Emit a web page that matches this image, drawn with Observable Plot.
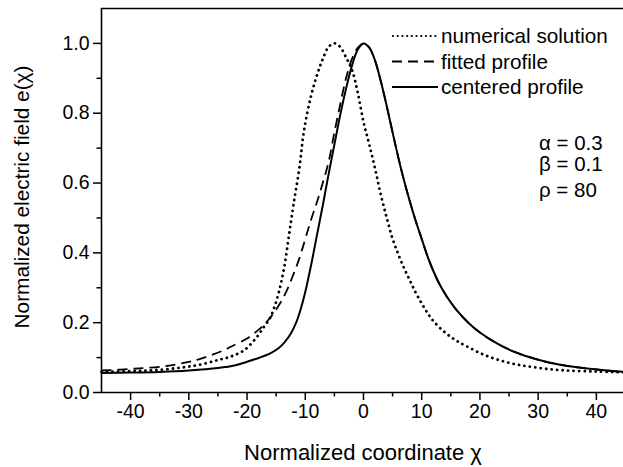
<!DOCTYPE html>
<html>
<head>
<meta charset="utf-8">
<script src="https://cdn.jsdelivr.net/npm/d3@7"></script>
<script src="https://cdn.jsdelivr.net/npm/@observablehq/plot@0.6"></script>
<style>
  html, body { margin: 0; padding: 0; background: #fff; overflow: hidden; }
  #chart svg { display: block; }
</style>
</head>
<body>
<div id="chart"></div>
<script>
// ---- data ----
const numX = [-45, -40, -36, -31, -28, -25, -22.8, -20.5, -18.5, -17.1, -16, -15.3, -14.5, -13.6, -12.8, -12, -11, -10.2, -9, -7.9, -7, -6, -5, -4, -3, -2, -1, 0, 1, 2, 3, 4, 5, 6, 7, 8, 9, 10, 11, 12, 14, 16, 18, 21, 25, 29, 34, 40, 44.7];
const numY = [0.059, 0.061, 0.064, 0.072, 0.08, 0.093, 0.103, 0.121, 0.155, 0.188, 0.215, 0.245, 0.29, 0.36, 0.45, 0.54, 0.645, 0.752, 0.85, 0.914, 0.955, 0.99, 1.0, 0.99, 0.96, 0.925, 0.86, 0.775, 0.71, 0.64, 0.565, 0.5, 0.44, 0.395, 0.355, 0.32, 0.285, 0.255, 0.228, 0.205, 0.172, 0.148, 0.13, 0.106, 0.085, 0.073, 0.064, 0.06, 0.058];

const fitX = [-45, -39.4, -33.7, -30, -27.9, -24, -22.8, -20, -18, -17, -16, -15, -14, -13, -12, -11, -10, -9, -8, -7, -6, -5, -4, -3, -2, -1, 0, 1, 2, 3, 4, 5, 6, 7, 8, 9, 10, 11, 12, 13, 14, 15, 16, 18, 20, 23, 26, 30, 34, 40, 44.7];
const fitY = [0.063, 0.068, 0.076, 0.088, 0.097, 0.121, 0.131, 0.155, 0.18, 0.196, 0.215, 0.238, 0.265, 0.298, 0.34, 0.385, 0.44, 0.495, 0.545, 0.6, 0.66, 0.745, 0.825, 0.9, 0.955, 0.987, 1.0, 0.988, 0.95, 0.89, 0.82, 0.745, 0.672, 0.605, 0.545, 0.49, 0.44, 0.39, 0.348, 0.312, 0.283, 0.258, 0.236, 0.2, 0.172, 0.14, 0.116, 0.094, 0.079, 0.066, 0.059];

const cenX = [-45, -40, -35, -30, -25, -22, -20, -18, -16, -14.5, -13.5, -12.5, -11.5, -10.8, -10, -9, -8, -7, -6, -5, -4, -3, -2, -1, 0, 1, 2, 3, 4, 5, 6, 7, 8, 9, 10, 11, 12, 13, 14, 15, 16, 18, 20, 23, 26, 30, 34, 40, 44.7];
const cenY = [0.056, 0.057, 0.059, 0.063, 0.07, 0.078, 0.088, 0.099, 0.112, 0.128, 0.145, 0.168, 0.203, 0.238, 0.288, 0.365, 0.45, 0.535, 0.625, 0.71, 0.795, 0.87, 0.935, 0.982, 1.0, 0.988, 0.95, 0.89, 0.82, 0.745, 0.672, 0.605, 0.545, 0.49, 0.44, 0.39, 0.348, 0.312, 0.283, 0.258, 0.236, 0.2, 0.172, 0.14, 0.116, 0.094, 0.079, 0.066, 0.059];

const seriesNames = ["numerical solution", "fitted profile", "centered profile"];
const xMajor = [-40, -30, -20, -10, 0, 10, 20, 30, 40];
const xMinor = [-35, -25, -15, -5, 5, 15, 25, 35];
const yMajor = [0, 0.2, 0.4, 0.6, 0.8, 1.0];
const yMinor = [0.1, 0.3, 0.5, 0.7, 0.9];
const xDomain = [-45, 44.66];
const yDomain = [0, 1.1];
const params = ["\u03B1 = 0.3", "\u03B2 = 0.1", "\u03C1 = 80"];
const xTitle = "Normalized coordinate \u03C7";
const yTitle = "Normalized electric field e(\u03C7)";

// ---- build tables ----
const toRows = (xs, ys) => xs.map((x, i) => ({x, y: ys[i]}));
const numData = toRows(numX, numY);
const fitData = toRows(fitX, fitY);
const cenData = toRows(cenX, cenY);

const styles = [
  {strokeWidth: 2.8, strokeDasharray: "0.1,5.4", strokeLinecap: "round"},
  {strokeWidth: 1.8, strokeDasharray: "10,6", strokeLinecap: "butt"},
  {strokeWidth: 2, strokeDasharray: null, strokeLinecap: "butt"}
];

const font = "'Liberation Sans', Arial, Helvetica, sans-serif";
const W = 623, H = 467;
const mL = 101, mT = 8, mB = 75, mR = 0;

const plot = Plot.plot({
  width: W,
  height: H,
  marginLeft: mL,
  marginRight: mR,
  marginTop: mT,
  marginBottom: mB,
  style: {fontFamily: font, background: "#fff", color: "#000", overflow: "visible"},
  x: {domain: xDomain},
  y: {domain: yDomain},
  marks: [
    Plot.axisX(xMajor, {tickSize: 8, tickPadding: 4, fontSize: 19.5, strokeWidth: 1.5, label: null, tickFormat: d => String(d)}),
    Plot.axisX(xMinor, {tickSize: 4.5, strokeWidth: 1.5, text: null, label: null}),
    Plot.axisY(yMajor, {tickSize: 8, tickPadding: 4, fontSize: 19.5, strokeWidth: 1.5, label: null, tickFormat: d3.format(".1f")}),
    Plot.axisY(yMinor, {tickSize: 4.5, strokeWidth: 1.5, text: null, label: null}),
    Plot.ruleY([yDomain[0]], {strokeWidth: 1.6}),
    Plot.ruleY([yDomain[1]], {strokeWidth: 1.6}),
    Plot.ruleX([xDomain[0]], {strokeWidth: 1.6}),
    Plot.line(numData, {x: "x", y: "y", curve: "catmull-rom", stroke: "#000", ...styles[0]}),
    Plot.line(fitData, {x: "x", y: "y", curve: "catmull-rom", stroke: "#000", ...styles[1]}),
    Plot.line(cenData, {x: "x", y: "y", curve: "catmull-rom", stroke: "#000", ...styles[2]})
  ]
});

document.getElementById("chart").appendChild(plot);

// ---- overlays: titles, legend, parameters ----
const svg = d3.select(plot);

svg.append("text")
  .attr("x", 363).attr("y", 460)
  .attr("text-anchor", "middle")
  .attr("font-family", font).attr("font-size", 22)
  .attr("fill", "#000")
  .text(xTitle);

svg.append("text")
  .attr("transform", "translate(29,197) rotate(-90)")
  .attr("text-anchor", "middle")
  .attr("font-family", font).attr("font-size", 20.8)
  .attr("fill", "#000")
  .text(yTitle);

const leg = svg.append("g")
  .attr("font-family", font).attr("font-size", 20.7)
  .attr("text-anchor", "start");
const legRowY = [36, 61.5, 87];
seriesNames.forEach((name, i) => {
  const s = styles[i];
  leg.append("line")
    .attr("x1", i === 0 ? 393 : 392).attr("x2", 438)
    .attr("y1", legRowY[i]).attr("y2", legRowY[i])
    .attr("stroke", "#000")
    .attr("stroke-width", i === 0 ? 2.2 : s.strokeWidth)
    .attr("stroke-dasharray", i === 0 ? "0.1,4.6" : s.strokeDasharray)
    .attr("stroke-linecap", s.strokeLinecap);
  leg.append("text")
    .attr("x", 441).attr("y", legRowY[i]).attr("dy", "0.35em")
    .attr("fill", "#000")
    .text(name);
});

const parY = [143, 164, 190];
params.forEach((t, i) => {
  svg.append("text")
    .attr("x", 539).attr("y", parY[i]).attr("dy", "0.35em")
    .attr("text-anchor", "start")
    .attr("font-family", font).attr("font-size", 20.5)
    .attr("fill", "#000")
    .text(t);
});
</script>
</body>
</html>
